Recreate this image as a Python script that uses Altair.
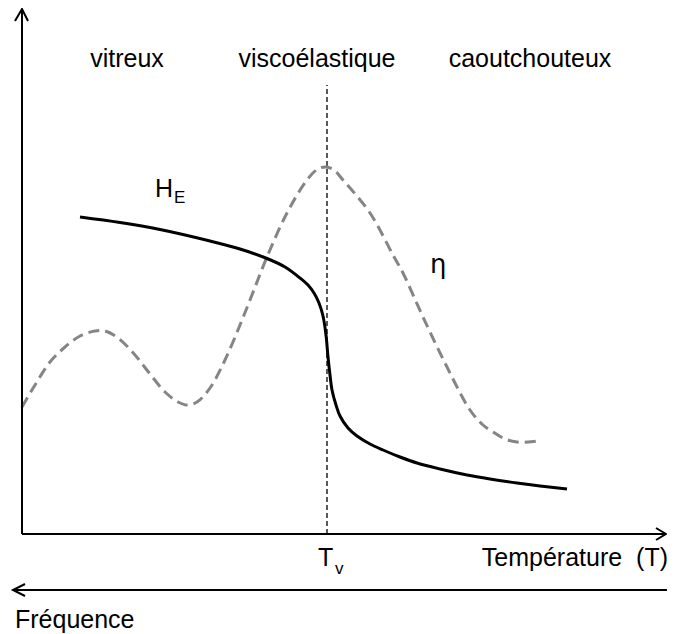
import altair as alt
import pandas as pd

# H_E curve (temperature, value)
he_t = [58, 98, 138, 188, 218, 245, 263, 278, 286, 292, 297, 301, 304, 306, 308, 310, 314, 318,
        326, 335, 348, 361, 378, 395, 418, 445, 468, 495, 518, 545]
he_v = [317, 311.5, 304.5, 293, 285, 275.5, 267, 256, 249, 241, 231, 218, 199, 177, 159, 144, 129, 118,
        106, 98, 90, 84, 77, 71, 65, 59, 55, 51, 48, 45]

# eta curve
eta_t = [0, 13, 28, 43, 58, 73, 83, 96, 113, 128, 143, 156, 165, 175, 188, 203, 218, 228, 245,
         265, 285, 296, 304, 312, 321, 348, 371, 381, 401, 425, 448, 461, 471, 483, 495, 506, 516]
eta_v = [127, 149, 172, 187, 198, 203, 203, 196, 179, 160, 142, 132, 129, 132, 146, 174, 209, 234, 277,
         321, 354, 365, 367, 364, 354, 321, 279, 261, 217, 167, 124, 109, 102, 95, 92, 92, 93]

TV = 305
X_MAX = 645
Y_MAX = 526
region_labels = ["vitreux", "viscoélastique", "caoutchouteux"]
region_t = [105, 295, 508]
region_v = 467

FONT = "Liberation Sans"
xs = alt.Scale(domain=[-14, 645], nice=False, zero=False)
ys = alt.Scale(domain=[-92, 526], nice=False, zero=False)

def X(f="t"):
    return alt.X(f"{f}:Q", scale=xs, axis=None)

def Y(f="v"):
    return alt.Y(f"{f}:Q", scale=ys, axis=None)

he_df = pd.DataFrame({"t": he_t, "v": he_v, "o": range(len(he_t))})
eta_df = pd.DataFrame({"t": eta_t, "v": eta_v, "o": range(len(eta_t))})

eta_line = alt.Chart(eta_df).mark_line(
    color="#858585", strokeWidth=3, strokeDash=[11, 6], interpolate="catmull-rom"
).encode(x=X(), y=Y(), order="o:O")

he_line = alt.Chart(he_df).mark_line(
    color="black", strokeWidth=3, interpolate="catmull-rom"
).encode(x=X(), y=Y(), order="o:O")

tv_df = pd.DataFrame({"t": [TV], "v": [0], "v2": [449]})
tv_rule = alt.Chart(tv_df).mark_rule(color="black", strokeWidth=1.3, strokeDash=[5, 3]).encode(
    x=X(), y=Y(), y2="v2:Q"
)

# axes and arrows (polylines derived from axis extents)
segs = []
def poly(name, pts):
    for i, (a, b) in enumerate(pts):
        segs.append({"id": name, "o": i, "t": a, "v": b})

poly("yaxis", [(0, 0), (0, Y_MAX - 1)])
poly("yhead", [(-7, Y_MAX - 13), (0, Y_MAX - 1), (6, Y_MAX - 13)])
poly("xaxis", [(0, 0), (X_MAX - 1, 0)])
poly("xhead", [(X_MAX - 11, 6), (X_MAX - 1, 0), (X_MAX - 11, -6)])
poly("faxis", [(-9, -56), (X_MAX, -56)])
poly("fhead", [(3, -50), (-9, -56), (3, -62)])
seg_df = pd.DataFrame(segs)
axes = alt.Chart(seg_df).mark_line(color="black", strokeWidth=2).encode(
    x=X(), y=Y(), detail="id:N", order="o:O"
)

reg_df = pd.DataFrame({"label": region_labels, "t": region_t, "v": [region_v] * 3})
regions = alt.Chart(reg_df).mark_text(
    font=FONT, fontSize=25, align="center", baseline="alphabetic", color="black"
).encode(x=X(), y=Y(), text="label:N")

big_df = pd.DataFrame({
    "label": ["H", "T", "Température\u00a0 (T)", "Fréquence"],
    "t": [133, 296, 646, -7],
    "v": [337, -32, -32, -94],
    "al": ["left", "left", "right", "left"],
})
big_left = alt.Chart(big_df[big_df.al == "left"]).mark_text(
    font=FONT, fontSize=25, align="left", baseline="alphabetic", color="black"
).encode(x=X(), y=Y(), text="label:N")
big_right = alt.Chart(big_df[big_df.al == "right"]).mark_text(
    font=FONT, fontSize=25, align="right", baseline="alphabetic", color="black"
).encode(x=X(), y=Y(), text="label:N")

sub_df = pd.DataFrame({"label": ["E", "v"], "t": [152, 313], "v": [331, -40]})
subs = alt.Chart(sub_df).mark_text(
    font=FONT, fontSize=17, align="left", baseline="alphabetic", color="black"
).encode(x=X(), y=Y(), text="label:N")

eta_lbl = alt.Chart(pd.DataFrame({"label": ["η"], "t": [408], "v": [261]})).mark_text(
    font="DejaVu Sans", fontSize=26, align="left", baseline="alphabetic", color="black"
).encode(x=X(), y=Y(), text="label:N")

chart = alt.layer(
    tv_rule, eta_line, he_line, axes, regions, big_left, big_right, subs, eta_lbl
).properties(
    width=659, height=618,
    padding={"left": 0, "top": 0, "right": 0, "bottom": 8},
    autosize=alt.AutoSizeParams(type="none")
).configure_view(stroke=None, strokeWidth=0)

chart.save("out.html", embed_options={"renderer": "svg", "actions": False})
